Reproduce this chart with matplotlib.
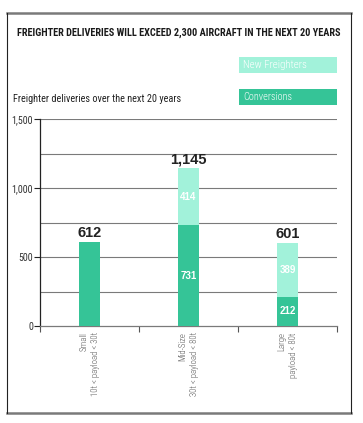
import matplotlib
matplotlib.use('Agg')
import matplotlib.pyplot as plt
from matplotlib.lines import Line2D
from matplotlib.patches import Rectangle

# data
categories = ['Small\n10t < payload < 30t',
              'Mid-Size\n30t < payload < 80t',
              'Large\npayload < 80t']
conversions = [612, 731, 212]
new_freighters = [0, 414, 389]
totals = ['612', '1,145', '601']
y_ticks = [0, 500, 1000, 1500]
y_tick_labels = ['0', '500', '1,000', '1,500']
grid_levels = [250, 500, 750, 1000, 1250, 1500]

conv_color = '#35c497'
new_color = '#a2f2da'
plt.rcParams['font.family'] = ['Roboto Condensed', 'Liberation Sans Narrow',
                               'Roboto', 'Liberation Sans', 'DejaVu Sans']
num_font = ['Liberation Sans', 'DejaVu Sans']

W, H = 363, 423
fig = plt.figure(figsize=(W / 100, H / 100), dpi=100)
fig.patch.set_facecolor('white')
renderer = fig.canvas.get_renderer()

def fx(px):
    return px / W

def fy(py):
    return 1 - py / H

def fit(t, target_px, vertical=False):
    # scale text to the length it takes in the original
    bb = t.get_window_extent(renderer)
    size = bb.height if vertical else bb.width
    t.set_fontsize(t.get_fontsize() * target_px / size)

# frame
fig.add_artist(Line2D([fx(7), fx(351)], [fy(13), fy(13)], color='#7a7a7a', lw=1.8))
fig.add_artist(Line2D([fx(7), fx(351)], [fy(413), fy(413)], color='#7a7a7a', lw=1.8))
fig.add_artist(Line2D([fx(7), fx(7)], [fy(13), fy(413)], color='#222222', lw=0.8))
fig.add_artist(Line2D([fx(351), fx(351)], [fy(13), fy(413)], color='#222222', lw=0.8))

t = fig.text(fx(179), fy(33), 'FREIGHTER DELIVERIES WILL EXCEED 2,300 AIRCRAFT IN THE NEXT 20 YEARS',
             ha='center', va='center', fontsize=7, fontweight='bold', color='#1a1a1a')
fit(t, 323)
t = fig.text(fx(13), fy(99), 'Freighter deliveries over the next 20 years',
             ha='left', va='center', fontsize=7, color='#222222')
fit(t, 171)

# legend boxes
for label, col, top, w in [('New Freighters', new_color, 57, 63), ('Conversions', conv_color, 89, 49)]:
    fig.add_artist(Rectangle((fx(239), fy(top + 16)), fx(98), 16 / H,
                             facecolor=col, edgecolor='none', transform=fig.transFigure))
    t = fig.text(fx(243), fy(top + 8), label, ha='left', va='center', fontsize=6.5,
                 color='white', fontweight='light')
    fit(t, w)

ax = fig.add_axes([fx(40), fy(326), fx(297), 207 / H])
x = list(range(len(categories)))
ax.bar(x, conversions, width=0.21, color=conv_color, zorder=3)
ax.bar(x, new_freighters, width=0.21, bottom=conversions, color=new_color, zorder=3)

for i in x:
    top = conversions[i] + new_freighters[i]
    ax.text(i, top + 12, totals[i], ha='center', va='bottom', fontsize=10.5,
            fontweight='bold', color='#222222', family=num_font)
    if new_freighters[i] > 0:
        ax.text(i, conversions[i] / 2, str(conversions[i]), ha='center', va='center',
                fontsize=7, fontweight='bold', color='white', zorder=4, family=num_font)
        ax.text(i, conversions[i] + new_freighters[i] / 2, str(new_freighters[i]),
                ha='center', va='center', fontsize=7, fontweight='bold', color='white',
                zorder=4, family=num_font)

for g in grid_levels:
    ax.axhline(g, color='#7a7a7a', lw=0.8, zorder=1)

ax.set_xlim(-0.5, 2.5)
ax.set_ylim(0, 1500)
ax.set_yticks(y_ticks)
ax.set_yticklabels(y_tick_labels, fontsize=7.2, color='#333333')
ax.set_xticks([-0.5, 0.5, 1.5, 2.5])
ax.set_xticklabels([])
ax.tick_params(axis='y', length=4, width=0.8, color='#222222', pad=1)
ax.tick_params(axis='x', length=4, width=0.8, color='#555555')
for s in ['top', 'right']:
    ax.spines[s].set_visible(False)
ax.spines['left'].set_color('#222222')
ax.spines['left'].set_linewidth(0.9)
ax.spines['bottom'].set_color('#7a7a7a')
ax.spines['bottom'].set_linewidth(0.9)

cat_texts = []
for i, lab in enumerate(categories):
    t = ax.text(i, -0.03, lab, transform=ax.get_xaxis_transform(), rotation=90,
                ha='center', va='top', multialignment='right', fontsize=6.5,
                color='#5a5a5a', linespacing=1.3, fontweight='light')
    cat_texts.append(t)
# longest label line runs about 64 px under the axis
scale_ref = cat_texts[1].get_window_extent(renderer).height / 64
for tt in cat_texts:
    tt.set_fontsize(tt.get_fontsize() / scale_ref)

fig.savefig('out.png', dpi=100, facecolor='white')
